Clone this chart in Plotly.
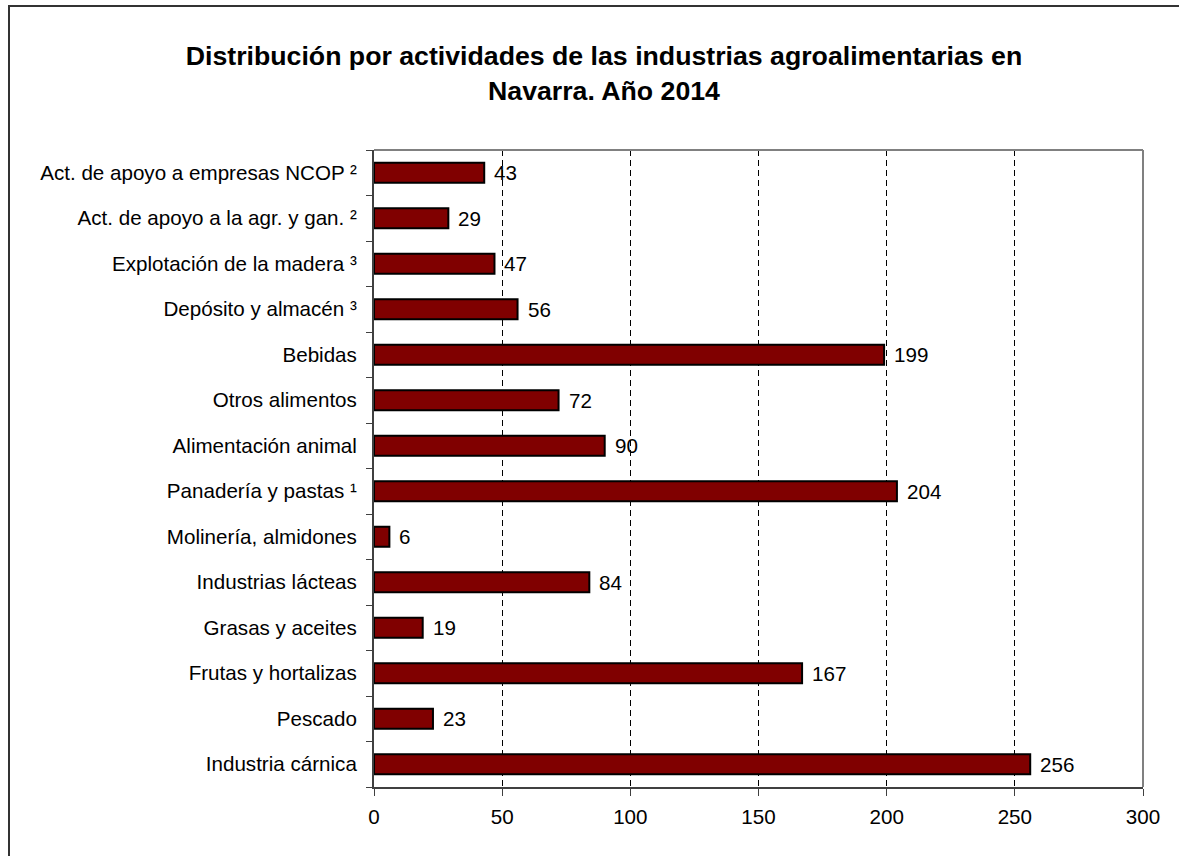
import plotly.graph_objects as go

categories = [
    "Industria cárnica",
    "Pescado",
    "Frutas y hortalizas",
    "Grasas y aceites",
    "Industrias lácteas",
    "Molinería, almidones",
    "Panadería y pastas ¹",
    "Alimentación animal",
    "Otros alimentos",
    "Bebidas",
    "Depósito y almacén ³",
    "Explotación de la madera ³",
    "Act. de apoyo a la agr. y gan. ²",
    "Act. de apoyo a empresas NCOP ²",
]
values = [256, 23, 167, 19, 84, 6, 204, 90, 72, 199, 56, 47, 29, 43]
x_ticks = [0, 50, 100, 150, 200, 250, 300]

title_text = ("Distribución por actividades de las industrias agroalimentarias en"
              "<br>Navarra. Año 2014")

FONT = "Liberation Sans, Arial, sans-serif"
TXT = 20.6

fig = go.Figure()
fig.add_trace(go.Bar(
    x=values,
    y=categories,
    orientation="h",
    marker=dict(color="#800000", line=dict(color="#000000", width=2)),
    showlegend=False,
    hoverinfo="x+y",
))

for v, c in zip(values, categories):
    fig.add_annotation(
        x=v, y=c, text=str(v), showarrow=False,
        xanchor="left", yanchor="middle", xshift=8,
        font=dict(family=FONT, size=TXT, color="#000000"),
    )

fig.update_layout(
    width=1179,
    height=856,
    paper_bgcolor="#ffffff",
    plot_bgcolor="#ffffff",
    margin=dict(l=374, r=36, t=150, b=69),
    bargap=0.56,
    title=dict(
        text=title_text,
        x=604 / 1179,
        xref="container",
        xanchor="center",
        y=1 - 65 / 856,
        yref="container",
        yanchor="top",
        font=dict(family=FONT, size=26.7, color="#000000", weight="bold"),
    ),
    font=dict(family=FONT, size=TXT, color="#000000"),
)

fig.update_xaxes(
    range=[0, 300],
    tickvals=x_ticks,
    ticktext=[str(t) for t in x_ticks],
    showgrid=True,
    gridcolor="#000000",
    gridwidth=1,
    griddash="6px,4px",
    zeroline=False,
    showline=True,
    linecolor="#404040",
    linewidth=2,
    ticks="outside",
    ticklen=7,
    tickcolor="#404040",
    tickwidth=1,
    tickfont=dict(family=FONT, size=TXT, color="#000000"),
    ticklabelstandoff=3,
    fixedrange=True,
)

fig.update_yaxes(
    categoryorder="array",
    categoryarray=categories,
    showgrid=False,
    zeroline=False,
    showline=True,
    linecolor="#404040",
    linewidth=2,
    ticks="outside",
    tickson="boundaries",
    ticklen=6,
    tickcolor="#404040",
    tickwidth=1,
    tickfont=dict(family=FONT, size=TXT, color="#000000"),
    ticklabelstandoff=11,
    fixedrange=True,
)

# Top and right plot-area borders (gray)
fig.add_shape(type="line", xref="x domain", yref="y domain",
              x0=0, x1=1, y0=1, y1=1, line=dict(color="#808080", width=2))
fig.add_shape(type="line", xref="x domain", yref="y domain",
              x0=1, x1=1, y0=0, y1=1, line=dict(color="#808080", width=2))

# Outer chart frame (extends past the right/bottom edges as in the reference)
fig.add_shape(type="rect", xref="paper", yref="paper",
              x0=(9 - 374) / 769, x1=(1200 - 374) / 769,
              y0=(787 - 880) / 637, y1=(787 - 6) / 637,
              line=dict(color="#333333", width=2), fillcolor="rgba(0,0,0,0)",
              layer="above")

fig.write_html(
    "out.html",
    config={"displayModeBar": False},
    post_script="document.body.style.margin='0px';document.body.style.overflow='hidden';",
)
